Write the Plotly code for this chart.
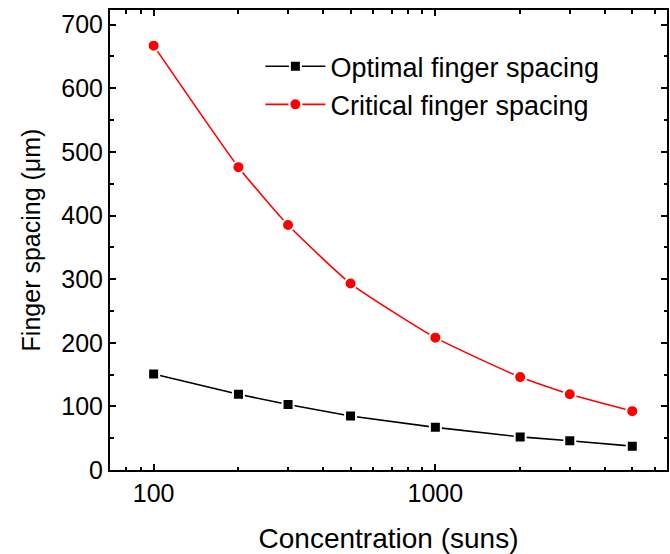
import numpy as np
import plotly.graph_objects as go

# Concentration levels (suns)
concentration = [100, 200, 300, 500, 1000, 2000, 3000, 5000]
# Finger spacing (um)
optimal_spacing = [151, 119, 103, 85, 67, 52, 46, 37.5]
critical_spacing = [667, 476, 385, 293, 208, 146, 119, 92.5]

x_ticks = [100, 1000]
x_minor = [70, 80, 90, 200, 300, 400, 500, 600, 700, 800, 900,
           2000, 3000, 4000, 5000, 6000]

FONT = "Liberation Sans, Arial, sans-serif"

fig = go.Figure()
fig.add_trace(go.Scatter(
    x=concentration, y=optimal_spacing, mode="lines+markers",
    name="Optimal finger spacing",
    line=dict(color="black", width=1.6),
    marker=dict(symbol="square", size=11, color="black",
                line=dict(color="white", width=2)),
))
fig.add_trace(go.Scatter(
    x=concentration, y=critical_spacing, mode="lines+markers",
    name="Critical finger spacing",
    line=dict(color="#ff0000", width=1.6, shape="spline", smoothing=0.5),
    marker=dict(symbol="circle", size=12, color="#ff0000",
                line=dict(color="white", width=2)),
))

axis_common = dict(
    showline=True, linecolor="black", linewidth=2, mirror="allticks",
    ticks="inside", ticklen=6, tickwidth=1.5, tickcolor="black",
    showgrid=False, zeroline=False,
    tickfont=dict(family=FONT, size=25, color="black"),
)

fig.update_xaxes(
    type="log", range=[np.log10(70), np.log10(6640)],
    tickmode="array", tickvals=x_ticks, ticktext=[str(v) for v in x_ticks],
    minor=dict(tickmode="array", tickvals=x_minor, ticks="inside",
               ticklen=3.5, tickwidth=1.5, tickcolor="black"),
    title=dict(text="Concentration (suns)",
               font=dict(family=FONT, size=28, color="black"), standoff=22),
    **axis_common,
)
fig.update_yaxes(
    range=[0, 723], tickmode="array", tickvals=list(range(0, 701, 100)),
    minor=dict(tickmode="array", tickvals=list(range(50, 701, 100)),
               ticks="inside", ticklen=3.5, tickwidth=1.5, tickcolor="black"),
    title=dict(text="Finger spacing (\u03bcm)",
               font=dict(family=FONT, size=25, color="black"), standoff=14),
    **axis_common,
)

fig.update_layout(
    width=670, height=554,
    margin=dict(l=110, r=1, t=10, b=84),
    paper_bgcolor="white", plot_bgcolor="white",
    font=dict(family=FONT, color="black"),
    legend=dict(
        x=0.27, y=0.93, xanchor="left", yanchor="top",
        bgcolor="rgba(0,0,0,0)", borderwidth=0,
        font=dict(family=FONT, size=27, color="black"),
        itemwidth=60, tracegroupgap=0,
    ),
)

fig.write_html("out.html")
